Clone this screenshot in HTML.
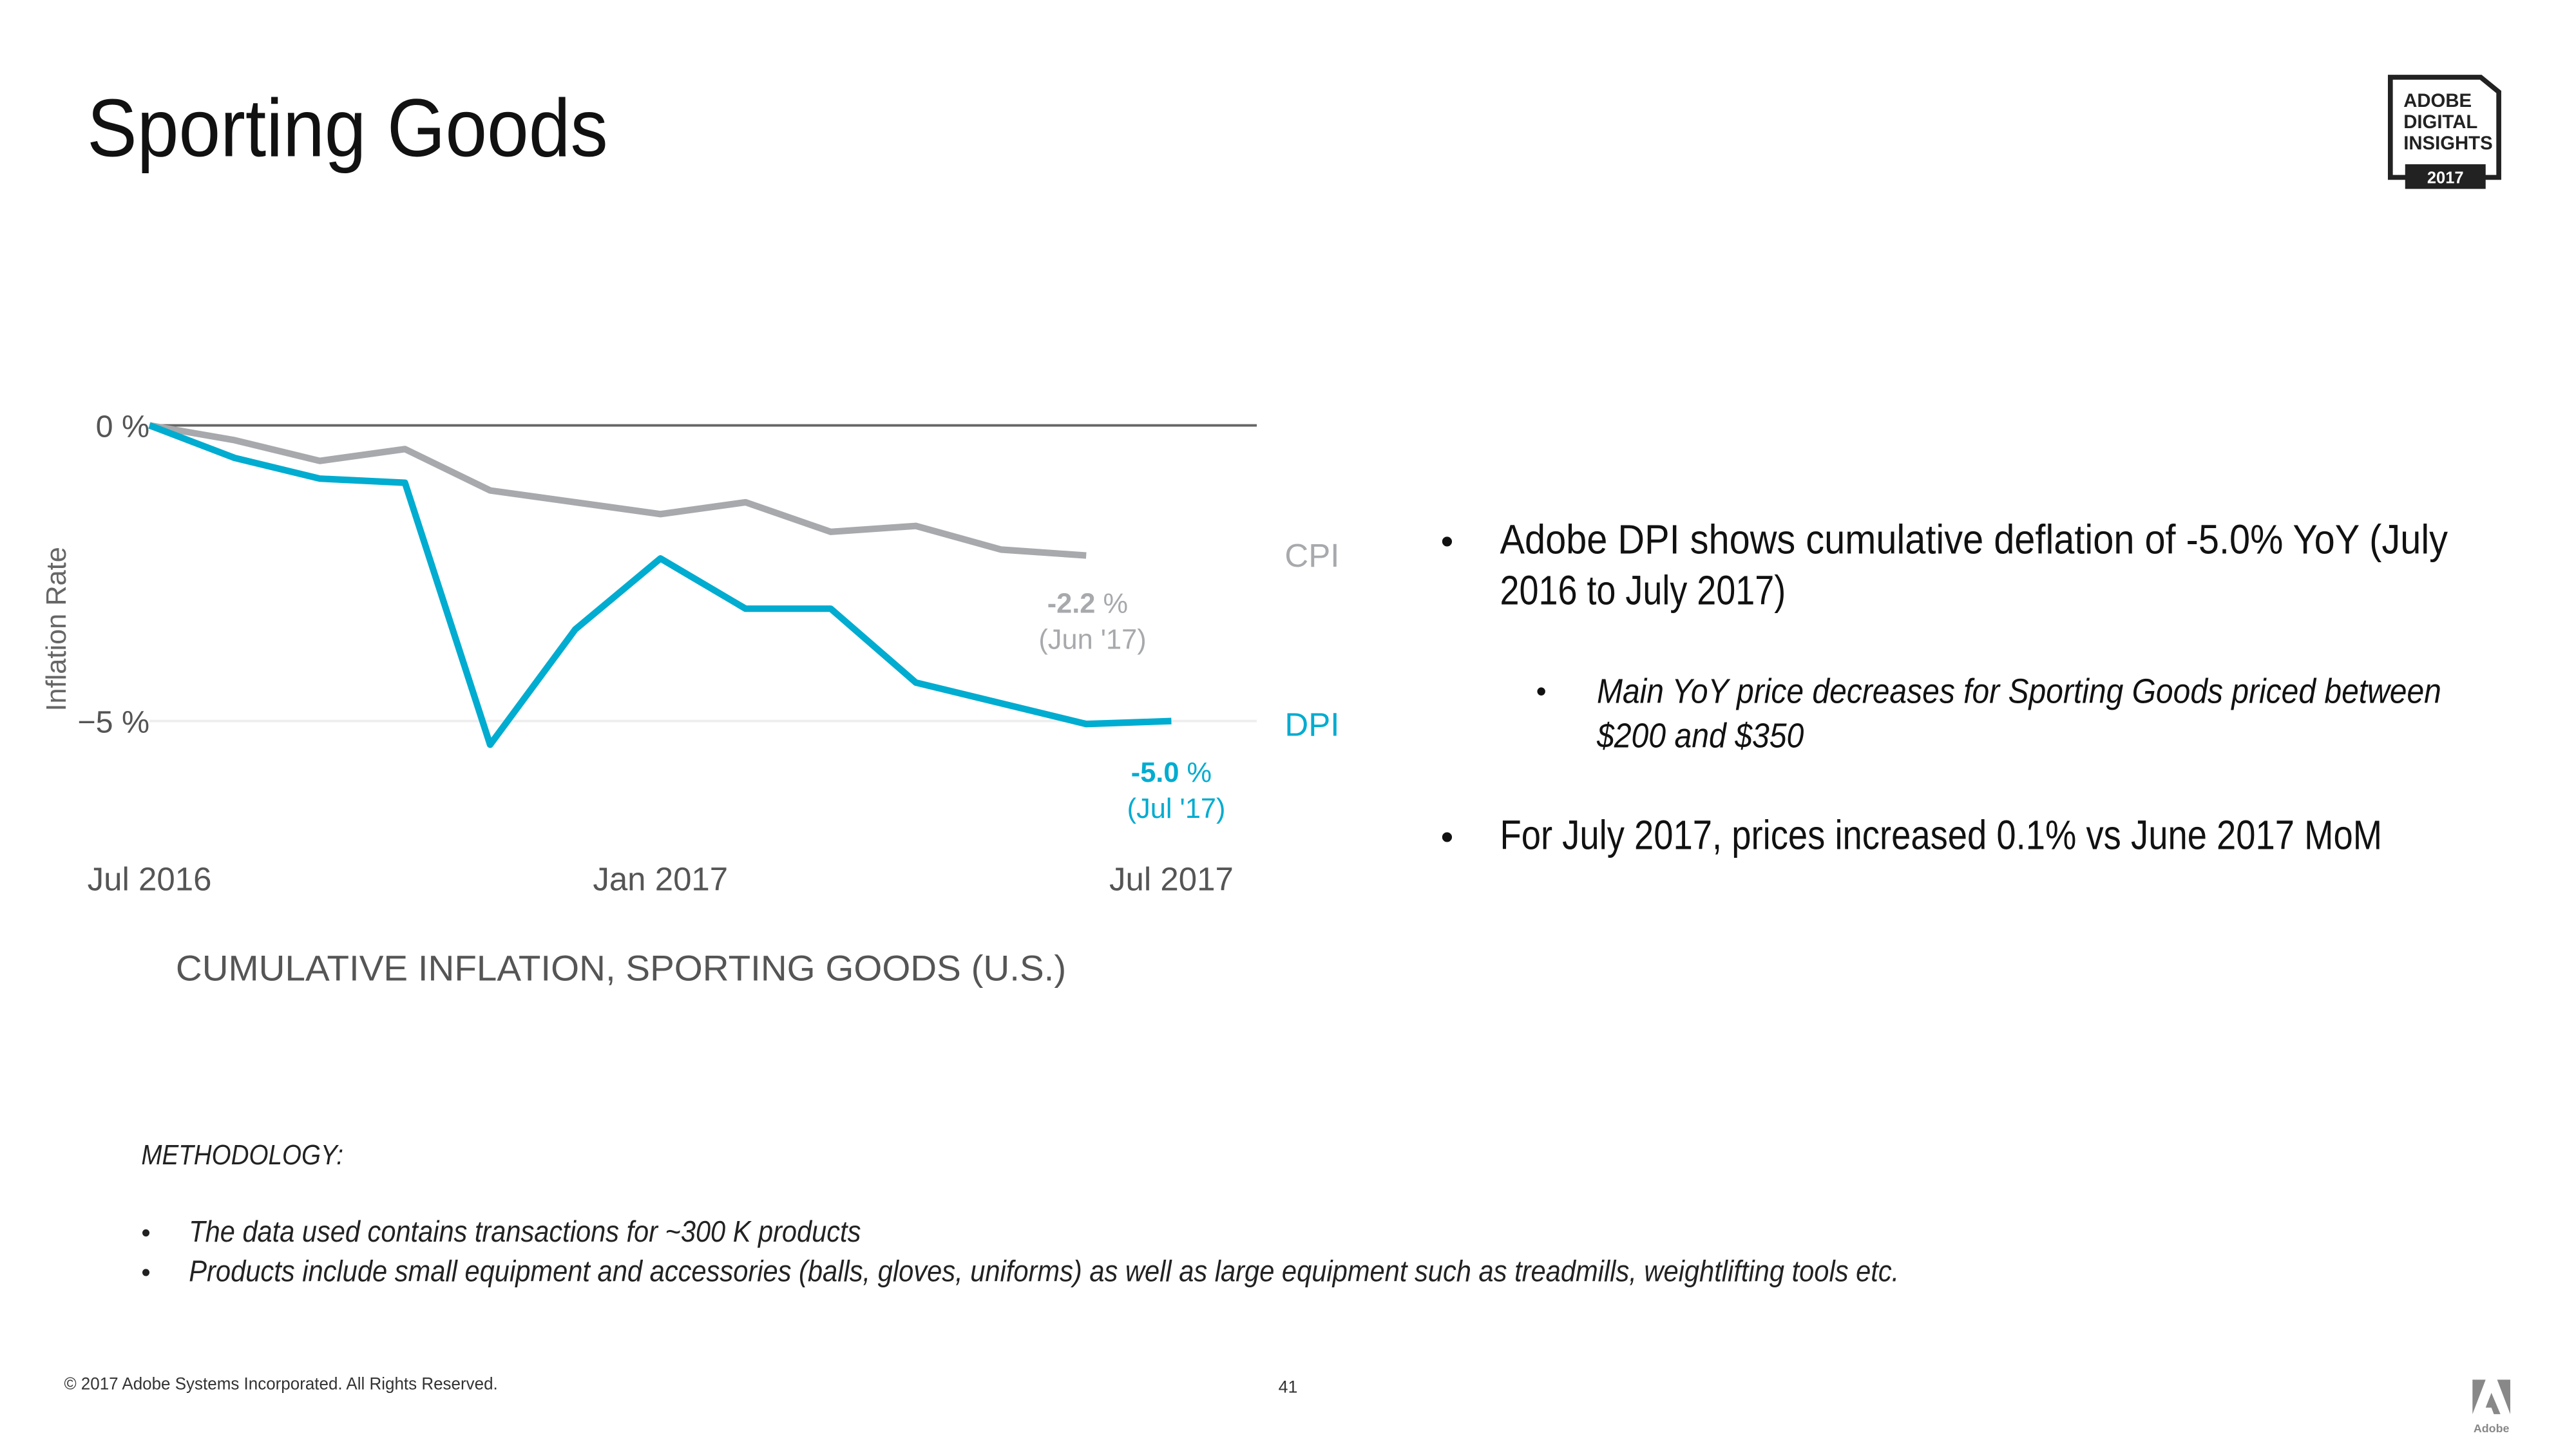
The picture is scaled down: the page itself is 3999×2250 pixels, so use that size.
<!DOCTYPE html>
<html><head><meta charset="utf-8"><style>
html,body{margin:0;padding:0;background:#fff;}
svg{display:block;width:3999px;height:2250px;}
text{font-family:"Liberation Sans",sans-serif;}
</style></head><body>
<svg id="s" viewBox="0 0 1568 882.2" xmlns="http://www.w3.org/2000/svg">
<text x="53" y="95" font-size="50" fill="#111" textLength="317" lengthAdjust="spacingAndGlyphs">Sporting Goods</text>
<g>
<path d="M1455,47 L1510,47 L1521,56 L1521,108 L1455,108 Z" fill="none" stroke="#222" stroke-width="3"/>
<rect x="1464" y="100" width="49" height="15" fill="#222"/>
<text x="1463" y="65" font-size="11.5" font-weight="bold" fill="#222">ADOBE</text>
<text x="1463" y="78" font-size="11.5" font-weight="bold" fill="#222">DIGITAL</text>
<text x="1463" y="91" font-size="11.5" font-weight="bold" fill="#222">INSIGHTS</text>
<text x="1488.5" y="111.5" font-size="10" font-weight="bold" fill="#fff" text-anchor="middle">2017</text>
</g>
<g id="chart">
<line x1="91" y1="259" x2="765" y2="259" stroke="#666" stroke-width="1.5"/>
<line x1="91" y1="439" x2="765" y2="439" stroke="#eee" stroke-width="1.5"/>
<text x="91" y="266" font-size="19" fill="#555" text-anchor="end">0 %</text>
<text x="91" y="446" font-size="19" fill="#555" text-anchor="end">−5 %</text>
<text transform="translate(40,383) rotate(-90)" font-size="17" fill="#666" text-anchor="middle">Inflation Rate</text>
<g id="xt"></g>
<g id="lines"></g>
<text x="782" y="345" font-size="20" fill="#a7a9ac">CPI</text>
<text x="782" y="448" font-size="20" fill="#00acd0">DPI</text>
<text x="662" y="373" font-size="17" fill="#a7a9ac" text-anchor="middle"><tspan font-weight="bold">-2.2</tspan> %</text>
<text x="665" y="395" font-size="17" fill="#a7a9ac" text-anchor="middle">(Jun '17)</text>
<text x="713" y="476" font-size="17" fill="#00acd0" text-anchor="middle"><tspan font-weight="bold">-5.0</tspan> %</text>
<text x="716" y="498" font-size="17" fill="#00acd0" text-anchor="middle">(Jul '17)</text>
<text x="107" y="597" font-size="22" fill="#555" textLength="542" lengthAdjust="spacingAndGlyphs">CUMULATIVE INFLATION, SPORTING GOODS (U.S.)</text>
</g>
<g>
<text x="877" y="337" font-size="22" fill="#111">•</text>
<text x="913" y="337" font-size="25" fill="#111" textLength="577" lengthAdjust="spacingAndGlyphs">Adobe DPI shows cumulative deflation of -5.0% YoY (July</text>
<text x="913" y="368" font-size="25" fill="#111" textLength="174" lengthAdjust="spacingAndGlyphs">2016 to July 2017)</text>
<text x="935" y="427" font-size="18" fill="#111">•</text>
<text x="972" y="428" font-size="21" font-style="italic" fill="#111" textLength="514" lengthAdjust="spacingAndGlyphs">Main YoY price decreases for Sporting Goods priced between</text>
<text x="972" y="455" font-size="21" font-style="italic" fill="#111" textLength="126" lengthAdjust="spacingAndGlyphs">$200 and $350</text>
<text x="877" y="517" font-size="22" fill="#111">•</text>
<text x="913" y="517" font-size="25" fill="#111" textLength="537" lengthAdjust="spacingAndGlyphs">For July 2017, prices increased 0.1% vs June 2017 MoM</text>
</g>
<g>
<text x="86" y="709" font-size="17" font-style="italic" fill="#222" textLength="123" lengthAdjust="spacingAndGlyphs">METHODOLOGY:</text>
<text x="86" y="756" font-size="16" fill="#222">•</text>
<text x="115" y="756" font-size="18" font-style="italic" fill="#222" textLength="409" lengthAdjust="spacingAndGlyphs">The data used contains transactions for ~300 K products</text>
<text x="86" y="780" font-size="16" fill="#222">•</text>
<text x="115" y="780" font-size="18" font-style="italic" fill="#222" textLength="1041" lengthAdjust="spacingAndGlyphs">Products include small equipment and accessories (balls, gloves, uniforms) as well as large equipment such as treadmills, weightlifting tools etc.</text>
</g>
<text x="39" y="846" font-size="10.5" fill="#333" textLength="264" lengthAdjust="spacingAndGlyphs">© 2017 Adobe Systems Incorporated.  All Rights Reserved.</text>
<text x="784" y="848" font-size="10.5" fill="#333" text-anchor="middle">41</text>
<g>
<path d="M1505,840 L1513,840 L1505,861 Z M1520,840 L1528,840 L1528,861 Z M1516.5,848 L1522,861 L1518,861 L1516.5,857 L1513,857 Z" fill="#888"/>
<text x="1516.5" y="872" font-size="7" font-weight="bold" fill="#888" text-anchor="middle">Adobe</text>
</g>
</svg>
<script>
const months = ["Jul 2016","Aug","Sep","Oct","Nov","Dec","Jan 2017","Feb","Mar","Apr","May","Jun","Jul 2017"];
const tickLabels = ["Jul 2016","Jan 2017","Jul 2017"];
const tickIndex = [0,6,12];
const cpiValues = [0,-0.25,-0.6,-0.4,-1.1,-1.3,-1.5,-1.3,-1.8,-1.7,-2.1,-2.2];
const dpiValues = [0,-0.55,-0.9,-0.97,-5.4,-3.45,-2.25,-3.1,-3.1,-4.35,-4.7,-5.05,-5.0];
const NS="http://www.w3.org/2000/svg";
function xScale(i){return 91 + i*(713-91)/12;}
function yScale(v){return 259 - v*(439-259)/5;}
const xt=document.getElementById('xt');
tickLabels.forEach((t,k)=>{
  const el=document.createElementNS(NS,'text');
  el.setAttribute('x',xScale(tickIndex[k]));
  el.setAttribute('y',542);
  el.setAttribute('font-size','20');
  el.setAttribute('fill','#555');
  el.setAttribute('text-anchor','middle');
  el.textContent=t;
  
  
  xt.appendChild(el);
});
const lg=document.getElementById('lines');
function drawLine(vals,color,name){
  const p=document.createElementNS(NS,'polyline');
  p.setAttribute('points',vals.map((v,i)=>xScale(i)+','+yScale(v)).join(' '));
  p.setAttribute('fill','none');
  p.setAttribute('stroke',color);
  p.setAttribute('stroke-width','4');
  p.setAttribute('stroke-linejoin','round');
  
  
  lg.appendChild(p);
}
drawLine(cpiValues,'#a7a9ac','cpi-line');
drawLine(dpiValues,'#00acd0','dpi-line');
</script>
</body></html>
